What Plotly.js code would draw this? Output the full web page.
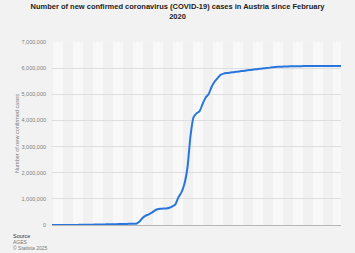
<!DOCTYPE html>
<html>
<head>
<meta charset="utf-8">
<script src="https://cdn.plot.ly/plotly-3.0.1.min.js"></script>
<style>html,body{margin:0;padding:0;background:#f2f2f2;}#chart{width:355px;height:253px;}</style>
</head>
<body>
<div id="chart"></div>
<script>
// Cumulative confirmed cases (millions), one value per observation
var casesMillions = [
  0, 0, 0, 0, 0, 0.001, 0.002, 0.003, 0.004, 0.005,
  0.006, 0.008, 0.01, 0.012, 0.015, 0.018, 0.02, 0.022, 0.025, 0.027,
  0.03, 0.032, 0.035, 0.038, 0.04, 0.042, 0.045, 0.048, 0.05, 0.12,
  0.26, 0.35, 0.40, 0.46, 0.54, 0.60, 0.62, 0.63, 0.635, 0.66,
  0.71, 0.79, 1.06, 1.25, 1.58, 2.2, 3.4, 4.12, 4.27, 4.35,
  4.62, 4.87, 5.0, 5.28, 5.48, 5.62, 5.74, 5.79, 5.81, 5.82,
  5.84, 5.86, 5.87, 5.89, 5.90, 5.92, 5.93, 5.95, 5.96, 5.98,
  5.99, 6.00, 6.01, 6.03, 6.04, 6.05, 6.05, 6.06, 6.06, 6.07,
  6.07, 6.07, 6.075, 6.075, 6.08, 6.08, 6.08, 6.08, 6.08, 6.08,
  6.08, 6.08, 6.08, 6.08, 6.08, 6.08, 6.08
];
var yTickValues = [0, 1000000, 2000000, 3000000, 4000000, 5000000, 6000000, 7000000];
var yTickLabels = ["0", "1,000,000", "2,000,000", "3,000,000", "4,000,000", "5,000,000", "6,000,000", "7,000,000"];
var titleText = "Number of new confirmed coronavirus (COVID-19) cases in Austria since February<br>2020";
var yTitle = "Number of new confirmed cases";
var sourceLines = ["Source", "AGES", "© Statista 2025"];

var cases = casesMillions.map(function (v) { return v * 1e6; });

// alternating vertical bands
var shapes = [];
var plotW = 289, band = 10;
for (var s = 1; s < plotW; s += 2 * band) {
  shapes.push({
    type: 'rect', xref: 'paper', yref: 'paper', layer: 'below',
    x0: s / plotW, x1: Math.min(s + band, plotW) / plotW, y0: 0, y1: 1,
    fillcolor: '#f8f8f8', line: {width: 0}
  });
}

var font = "'Liberation Sans', Arial, sans-serif";
var trace = {
  y: cases, type: 'scatter', mode: 'lines',
  line: {color: '#2876dd', width: 2, shape: 'spline', smoothing: 0.6},
  hoverinfo: 'skip'
};
var layout = {
  width: 355, height: 253,
  margin: {l: 52, r: 14, t: 42, b: 28},
  paper_bgcolor: '#f2f2f2', plot_bgcolor: '#f1f1f1',
  font: {family: font},
  showlegend: false,
  title: {
    text: titleText, x: 0.5, xanchor: 'center', y: 0.965, yanchor: 'top',
    font: {family: font, size: 7.5, color: '#222', weight: 'bold'}
  },
  xaxis: {
    range: [0, cases.length - 1], showticklabels: false, showgrid: false,
    zeroline: false, showline: true, linecolor: '#b5b5b5', linewidth: 1,
    ticks: '', fixedrange: true
  },
  yaxis: {
    range: [0, 7000000], tickvals: yTickValues, ticktext: yTickLabels,
    showgrid: true, gridcolor: '#dedede', gridwidth: 1, zeroline: false,
    ticks: '', ticklabelstandoff: 5,
    tickfont: {family: font, size: 5.5, color: '#808080'},
    title: {text: yTitle, font: {family: font, size: 5.5, color: '#808080'}, standoff: 1},
    fixedrange: true
  },
  shapes: shapes,
  annotations: [
    {text: sourceLines[0], xref: 'paper', yref: 'paper', x: -41 / 289, y: -10.5 / 183, xanchor: 'left', yanchor: 'middle', showarrow: false, font: {family: font, size: 5.5, color: '#333'}},
    {text: sourceLines[1], xref: 'paper', yref: 'paper', x: -41 / 289, y: -16.8 / 183, xanchor: 'left', yanchor: 'middle', showarrow: false, font: {family: font, size: 5, color: '#777'}},
    {text: sourceLines[2], xref: 'paper', yref: 'paper', x: -41 / 289, y: -22.8 / 183, xanchor: 'left', yanchor: 'middle', showarrow: false, font: {family: font, size: 5, color: '#777'}}
  ]
};
Plotly.newPlot('chart', [trace], layout, {displayModeBar: false, staticPlot: true});
</script>
</body>
</html>
